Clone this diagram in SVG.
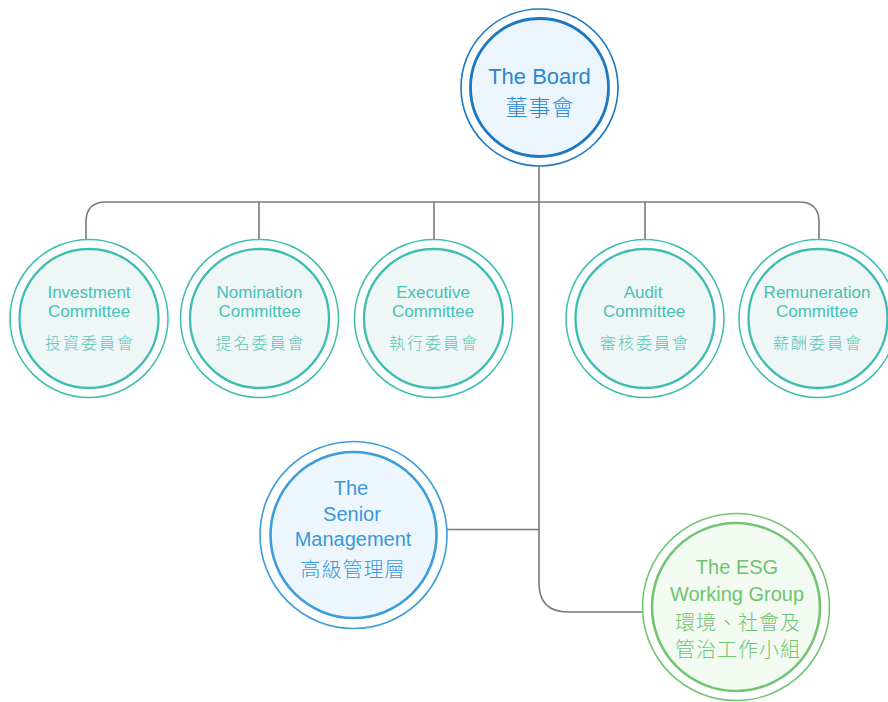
<svg xmlns="http://www.w3.org/2000/svg" width="888" height="702" viewBox="0 0 888 702">
<style>
text{font-family:"Liberation Sans","Noto Sans CJK TC",sans-serif;text-anchor:middle}
.zh{font-family:"Noto Sans CJK TC",sans-serif;font-weight:300}
.conn{fill:none;stroke:#7a7a7a;stroke-width:1.6}
.bo{fill:#fff;stroke:#1d78c2;stroke-width:1.6}
.bi{fill:#edf5fc;stroke:#1d78c2;stroke-width:2.8}
.bt{fill:#2b87cf}
.co{fill:#fff;stroke:#3dbdb1;stroke-width:1.5}
.ci{fill:#eef7f6;stroke:#3dbdb1;stroke-width:2.3}
.ct{fill:#46c1b5;font-size:17px}
.cc{fill:#5ac6bb;font-size:16px;letter-spacing:2px}
.so{fill:#fff;stroke:#3c9ddb;stroke-width:1.6}
.si{fill:#eef6fd;stroke:#3c9ddb;stroke-width:2.6}
.st{fill:#3a98d8;font-size:20px}
.go{fill:#fff;stroke:#72c673;stroke-width:1.6}
.gi{fill:#f3faf2;stroke:#72c673;stroke-width:2.6}
.gt{fill:#6fc46f;font-size:20px}
</style>
<g id="connectors">
<path class="conn" d="M539 166 V583 Q539 612 568 612 H643"/>
<path class="conn" d="M539 529.5 H447"/>
<path class="conn" d="M86 240 V222 Q86 202 106 202 H799 Q819 202 819 222 V240"/>
<path class="conn" d="M259 202 V240"/>
<path class="conn" d="M434 202 V240"/>
<path class="conn" d="M645 202 V240"/>
</g>
<g id="board">
<circle class="bo" cx="539.5" cy="87.5" r="78.5"/>
<circle class="bi" cx="539.5" cy="87.5" r="69"/>
<text class="bt" x="539.5" y="84" font-size="22">The Board</text>
<text class="bt zh" x="540" y="115" font-size="22" letter-spacing="1">董事會</text>
</g>
<g id="investment">
<circle class="co" cx="89" cy="318.5" r="79"/>
<circle class="ci" cx="89" cy="318.5" r="69.5"/>
<text class="ct" x="89" y="298">Investment</text>
<text class="ct" x="89" y="317">Committee</text>
<text class="cc zh" x="90" y="349">投資委員會</text>
</g>
<g id="nomination">
<circle class="co" cx="259.5" cy="318.5" r="79"/>
<circle class="ci" cx="259.5" cy="318.5" r="69.5"/>
<text class="ct" x="259.5" y="298">Nomination</text>
<text class="ct" x="259.5" y="317">Committee</text>
<text class="cc zh" x="260.5" y="349">提名委員會</text>
</g>
<g id="executive">
<circle class="co" cx="433.5" cy="318.5" r="79"/>
<circle class="ci" cx="433.5" cy="318.5" r="69.5"/>
<text class="ct" x="433" y="298">Executive</text>
<text class="ct" x="433" y="317">Committee</text>
<text class="cc zh" x="434" y="349">執行委員會</text>
</g>
<g id="audit">
<circle class="co" cx="645" cy="318.5" r="79"/>
<circle class="ci" cx="645" cy="318.5" r="69.5"/>
<text class="ct" x="643" y="298">Audit</text>
<text class="ct" x="644" y="317">Committee</text>
<text class="cc zh" x="645" y="349">審核委員會</text>
</g>
<g id="remuneration">
<circle class="co" cx="818" cy="318.5" r="79"/>
<circle class="ci" cx="818" cy="318.5" r="69.5"/>
<text class="ct" x="817" y="298">Remuneration</text>
<text class="ct" x="817" y="317">Committee</text>
<text class="cc zh" x="818" y="349">薪酬委員會</text>
</g>
<g id="senior">
<circle class="so" cx="353.5" cy="535" r="93.5"/>
<circle class="si" cx="353.5" cy="535" r="83"/>
<text class="st" x="351" y="495">The</text>
<text class="st" x="352" y="521">Senior</text>
<text class="st" x="353" y="546">Management</text>
<text class="st zh" x="353" y="577" letter-spacing="1">高級管理層</text>
</g>
<g id="esg">
<circle class="go" cx="736" cy="607" r="93.5"/>
<circle class="gi" cx="736" cy="607" r="84"/>
<text class="gt" x="737" y="574">The ESG</text>
<text class="gt" x="737" y="601">Working Group</text>
<text class="gt zh" x="738" y="630" letter-spacing="1">環境、社會及</text>
<text class="gt zh" x="738" y="657" letter-spacing="1">管治工作小組</text>
</g>
</svg>
